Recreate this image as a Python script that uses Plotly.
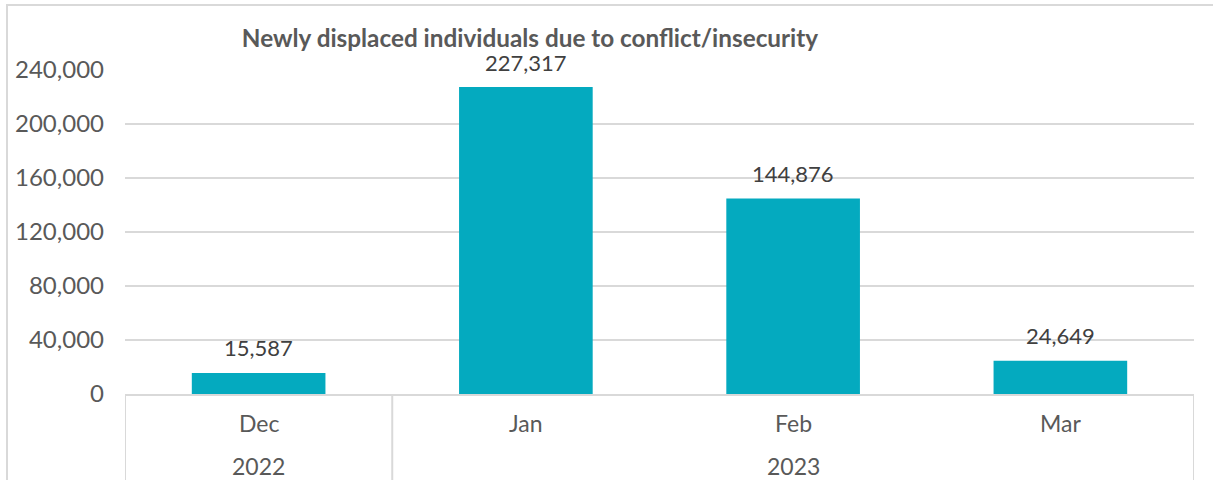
import plotly.graph_objects as go

years = ["2022", "2023", "2023", "2023"]
months = ["Dec", "Jan", "Feb", "Mar"]
values = [15587, 227317, 144876, 24649]
y_ticks = [0, 40000, 80000, 120000, 160000, 200000, 240000]
y_tick_labels = ["0", "40,000", "80,000", "120,000", "160,000", "200,000", "240,000"]
title_text = "Newly displaced individuals due to conflict/insecurity"

W, H = 1213, 480
px_left, px_right, px_top, px_bottom = 125, 1194, 70, 394  # plot area in pixels
L = px_left
R = W - px_right
T = px_top
B = H - px_bottom
pw, ph = W - L - R, H - T - B


def py(y_px):
    """pixel y -> paper y"""
    return (px_bottom - y_px) / ph


def pxp(x_px):
    return (x_px - px_left) / pw


font = "Lato"
fig = go.Figure(go.Bar(
    x=months,
    y=values,
    marker=dict(color="#04AABF", line=dict(width=0)),
    width=0.5,
    hoverinfo="x+y",
))

annotations = []
# data labels
for m, v in zip(months, values):
    annotations.append(dict(x=m, y=v, xref="x", yref="y", text=f"{v:,}",
                            showarrow=False, yanchor="middle", yshift=25,
                            font=dict(family=font, size=22, color="#404040")))
# month labels
for m in months:
    annotations.append(dict(x=m, y=py(423), xref="x", yref="paper", text=m,
                            showarrow=False, yanchor="middle",
                            font=dict(family=font, size=23, color="#595959")))
# year labels and group dividers
groups = []
for i, yv in enumerate(years):
    if groups and groups[-1][0] == yv:
        groups[-1][2] = i
    else:
        groups.append([yv, i, i])
shapes = []
for yv, i0, i1 in groups:
    annotations.append(dict(x=(i0 + i1) / 2, y=py(466), xref="x", yref="paper", text=yv,
                            showarrow=False, yanchor="middle",
                            font=dict(family=font, size=23, color="#595959")))
divs = sorted(set([g[1] - 0.5 for g in groups] + [g[2] + 0.5 for g in groups]))
for d in divs:
    shapes.append(dict(type="line", xref="x", yref="paper", x0=d, x1=d,
                       y0=0, y1=py(500), line=dict(color="#D9D9D9", width=2)))

# outer chart frame (top and left borders)
shapes.append(dict(type="rect", xref="paper", yref="paper",
                   x0=pxp(7), x1=pxp(W + 20), y0=py(5), y1=py(520),
                   line=dict(color="#D9D9D9", width=2), fillcolor="rgba(0,0,0,0)",
                   layer="above"))

fig.update_layout(
    width=W, height=H,
    margin=dict(l=L, r=R, t=T, b=B, autoexpand=False),
    paper_bgcolor="white", plot_bgcolor="white",
    showlegend=False,
    title=dict(text=f"<b>{title_text}</b>", x=530 / W, xanchor="center",
               y=1 - 38 / H, yanchor="middle", yref="container",
               font=dict(family=font, size=24.3, color="#595959")),
    font=dict(family=font, color="#595959"),
    yaxis=dict(range=[0, 240000], tickvals=y_ticks, ticktext=y_tick_labels,
               showgrid=True, gridcolor="#D9D9D9", gridwidth=1.5,
               zeroline=False, showline=False, ticks="",
               tickfont=dict(family=font, size=24, color="#595959"), ticklabelstandoff=20),
    xaxis=dict(type="category", range=[-0.5, 3.5], showline=True, linecolor="#D9D9D9",
               linewidth=2, showticklabels=False, ticks="", showgrid=False),
    annotations=annotations,
    shapes=shapes,
)

fig.write_html("out.html", config={"displayModeBar": False},
               post_script="document.body.style.margin='0';document.body.style.overflow='hidden';")
